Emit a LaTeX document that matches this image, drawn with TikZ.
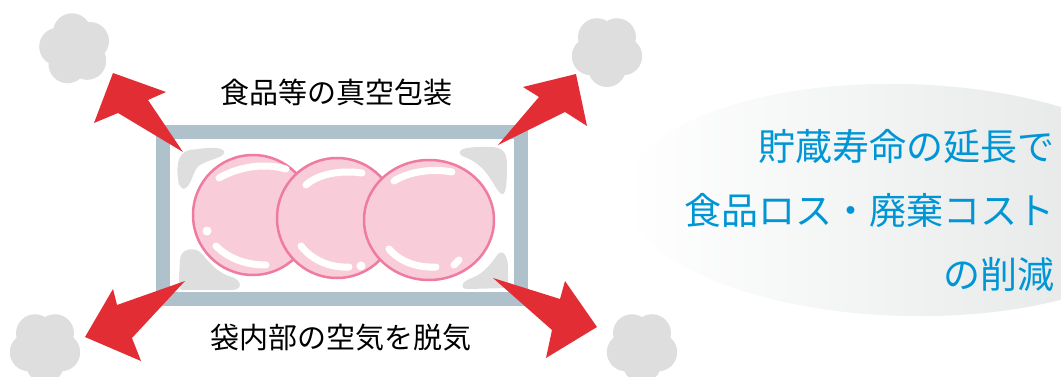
\documentclass[tikz,border=0pt]{standalone}
\usepackage{fontspec}
\newfontfamily\jpfont{Noto Sans CJK JP}
\definecolor{framegray}{RGB}{175,194,203}
\definecolor{arrowred}{RGB}{227,45,53}
\definecolor{puffgray}{RGB}{222,222,222}
\definecolor{bubblefill}{RGB}{248,204,217}
\definecolor{bubbleline}{RGB}{239,124,160}
\definecolor{haze}{RGB}{226,229,229}
\definecolor{msgblue}{RGB}{0,150,214}
\begin{document}
\begin{tikzpicture}[x=1pt,y=-1pt,
  labeltext/.style={inner sep=0pt, text=black, font=\jpfont\fontsize{29pt}{34pt}\selectfont},
  msgtext/.style={inner sep=0pt, anchor=east, text=msgblue, font=\jpfont\fontsize{37pt}{43pt}\selectfont},
  bubble/.style={fill=bubblefill, draw=bubbleline, line width=2.5pt},
  gloss/.style={draw=white, line width=7pt, line cap=round},
  blob/.style={fill=puffgray},
  burst/.style={fill=arrowred},
  puff/.style={fill=puffgray}]
\useasboundingbox (0,0) rectangle (1061,377);

% soft backdrop behind the message
\begin{scope}
  \clip (0,0) rectangle (1061,377);
  \shade[left color=white, right color=haze, shift={(905,200)}, rotate=-1.5]
    (0,0) ellipse [x radius=280, y radius=116];
\end{scope}

% vacuum bag outline
\draw[framegray, line width=14pt] (163,132) rectangle (521,299);

% residual air pockets in the corners
\fill[blob] (179,185) .. controls (176,170) and (176,152) .. (190,150)
  .. controls (205,148) and (220,146) .. (224,151)
  .. controls (227,157) and (210,159) .. (200,165)
  .. controls (192,170) and (192,188) .. (183,189) -- cycle;
\fill[blob] (462,156) .. controls (455,150) and (465,147) .. (480,147)
  .. controls (500,146) and (507,148) .. (507,165)
  .. controls (507,185) and (506,198) .. (500,193)
  .. controls (492,185) and (488,165) .. (462,156) -- cycle;
\fill[blob] (180,260) .. controls (180,250) and (192,246) .. (200,252)
  .. controls (210,262) and (215,272) .. (232,277)
  .. controls (243,281) and (242,290) .. (232,290)
  -- (182,290) .. controls (178,290) and (179,275) .. (180,260) -- cycle;
\fill[blob] (498,254) .. controls (503,249) and (508,256) .. (508,268)
  -- (508,288) -- (468,289)
  .. controls (458,289) and (462,281) .. (472,278)
  .. controls (485,273) and (492,262) .. (498,254) -- cycle;

% packed food items
\draw[bubble] (253,215) ellipse [x radius=60, y radius=60];
\draw[gloss] (219,178) .. controls (240,166) and (265,163) .. (286,169);
\draw[gloss] (216,246) .. controls (228,258) and (245,265) .. (266,265);
\fill[white] (207,231) circle [radius=4.5];

\draw[bubble] (337,218) ellipse [x radius=60, y radius=60];
\draw[gloss] (306,185) .. controls (318,174) and (340,170) .. (362,173);
\draw[gloss] (301,246) .. controls (312,260) and (330,268) .. (349,267);
\fill[white] (361,266) circle [radius=4.5];

\draw[bubble] (429,220) ellipse [x radius=65, y radius=60];
\draw[gloss] (394,181) .. controls (408,172) and (432,168) .. (452,172);
\draw[gloss] (389,249) .. controls (400,262) and (418,268) .. (436,267);
\draw[gloss] (454,265) -- (459,260);

% air being drawn out
\fill[burst] (183,152) -- (148,100) -- (166,92) -- (113,73) -- (94,123) -- (118,113) -- cycle;
\fill[burst] (498,145) -- (539,97) -- (523,87) -- (576,74) -- (587,126) -- (565,112) -- cycle;
\fill[burst] (185,281) -- (117,305) -- (113,289) -- (85,337) -- (141,361) -- (132,338) -- cycle;
\fill[burst] (493,278) -- (560,299) -- (565,281) -- (597,327) -- (546,358) -- (552,330) -- cycle;

% puffs of air
\foreach \cx/\cy/\rot in {75/49/-100, 607/51/-126, 45/347/-126, 642/347/-126} {
  \fill[puff] (\cx,\cy) circle [radius=21];
  \foreach \k in {0,...,4}
    \fill[puff] ({\cx+17*cos(\rot+72*\k)},{\cy+17*sin(\rot+72*\k)}) circle [radius=19];
}

% captions
\node[labeltext] (pack) at (336,92) {食品等の真空包装};
\node[labeltext] (degas) at (341,338) {袋内部の空気を脱気};

\node[msgtext] (msgA) at (1055,146) {貯蔵寿命の延長で};
\node[msgtext] (msgB) at (1055,210) {食品ロス・廃棄コスト};
\node[msgtext] (msgC) at (1055,274) {の削減};
\end{tikzpicture}
\end{document}
